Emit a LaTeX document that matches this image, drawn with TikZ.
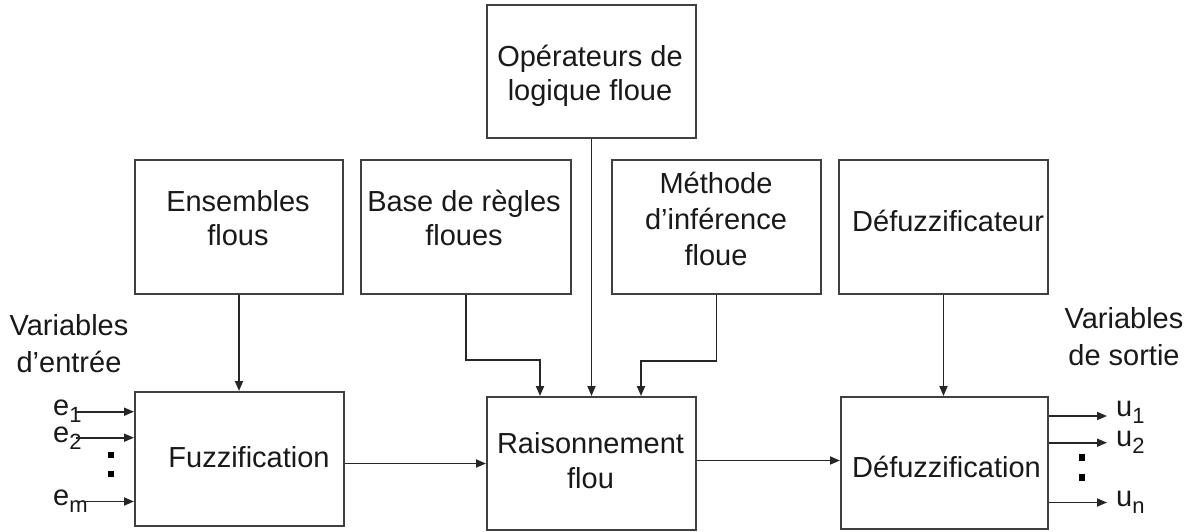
\documentclass[tikz,border=0pt]{standalone}
\usepackage{fontspec}
\setmainfont{Liberation Sans}
\usetikzlibrary{arrows.meta}
\newcommand\mlines[1]{\begin{tabular}[t]{@{}c@{}}#1\end{tabular}}
\newcommand\subsc[1]{\raisebox{-7pt}{\fontsize{22}{22}\selectfont #1}}
\begin{document}
\begin{tikzpicture}[x=1pt,y=-1pt,
  box/.style={draw=black!75, line width=2pt, rectangle, inner sep=0pt},
  txt/.style={inner sep=0pt, anchor=base, text=black!90, font=\fontsize{29}{34}\selectfont},
  arr/.style={draw=black!85, line width=1.8pt, -{Triangle[length=10pt,width=8pt]}},
  dot/.style={fill=black}
]
\useasboundingbox (0,0) rectangle (1192,531);

% boxes
\node[box, minimum width=209pt, minimum height=133pt] (ops) at (591.5,71.5) {};
\node[box, minimum width=208pt, minimum height=134pt] (ens) at (239,227) {};
\node[box, minimum width=210pt, minimum height=134pt] (base) at (466,227) {};
\node[box, minimum width=209pt, minimum height=134pt] (meth) at (716.5,227) {};
\node[box, minimum width=209pt, minimum height=134pt] (defz) at (943.5,227) {};
\node[box, minimum width=209pt, minimum height=134pt] (fuzz) at (239.5,459) {};
\node[box, minimum width=209pt, minimum height=133pt] (rais) at (591.5,463.5) {};
\node[box, minimum width=207pt, minimum height=132pt] (defuzz) at (944.5,463) {};

% box texts
\node[txt] (tops) at (590,66) {\mlines{Opérateurs de\\logique floue}};
\node[txt] (tens) at (238,211) {\mlines{Ensembles\\flous}};
\node[txt] (tbase) at (464,211) {\mlines{Base de règles\\floues}};
\node[txt, font=\fontsize{29}{36}\selectfont] (tmeth) at (716,193) {\mlines{Méthode\\d’inférence\\floue}};
\node[txt, anchor=base west] (tdefz) at (852,231) {Défuzzificateur};
\node[txt] (tfuzz) at (249,467) {Fuzzification};
\node[txt, font=\fontsize{29}{35}\selectfont] (trais) at (590.5,453) {\mlines{Raisonnement\\flou}};
\node[txt, anchor=base west] (tdefuzz) at (852,477) {Défuzzification};

% side labels
\node[txt, font=\fontsize{29}{37}\selectfont] (vin) at (69,335) {\mlines{Variables\\d’entrée}};
\node[txt, font=\fontsize{29}{37}\selectfont] (vout) at (1124,328) {\mlines{Variables\\de sortie}};

% vertical feeds
\draw[arr] (ens.south) -- (ens.south |- fuzz.north);
\draw[arr] (ops.south) -- (ops.south |- rais.north);
\draw[arr] (defz.south) -- (defz.south |- defuzz.north);
\coordinate (jb) at (540,360);
\coordinate (jm) at (641,361);
\draw[arr] (base.south) |- (jb) -- (jb |- rais.north);
\draw[arr] (meth.south) |- (jm) -- (jm |- rais.north);

% main chain
\coordinate (yb) at (0,460.5);
\draw[arr] (fuzz.east |- rais.west) -- (rais.west);
\draw[arr] (rais.east |- yb) -- (defuzz.west |- yb);

% inputs
\coordinate (in1) at (76,411.7);
\coordinate (in2) at (76,437.7);
\coordinate (inm) at (76,501.5);
\node[txt, anchor=base west] (le1) at (53,415.5) {e\subsc{1}};
\node[txt, anchor=base west] (le2) at (53,442) {e\subsc{2}};
\node[txt, anchor=base west] (lem) at (53,505.5) {e\subsc{m}};
\draw[arr] (in1) -- (in1 -| fuzz.west);
\draw[arr] (in2) -- (in2 -| fuzz.west);
\draw[arr] (inm) -- (inm -| fuzz.west);
\fill[dot] (108,452) rectangle (113.5,458);
\fill[dot] (108,471) rectangle (113.5,477);

% outputs
\coordinate (out1) at (1107,416);
\coordinate (out2) at (1107,442.7);
\coordinate (outn) at (1107,502.5);
\draw[arr] (out1 -| defuzz.east) -- (out1);
\draw[arr] (out2 -| defuzz.east) -- (out2);
\draw[arr] (outn -| defuzz.east) -- (outn);
\node[txt, anchor=base west] (lu1) at (1116,416) {u\subsc{1}};
\node[txt, anchor=base west] (lu2) at (1116,446) {u\subsc{2}};
\node[txt, anchor=base west] (lun) at (1116,506) {u\subsc{n}};
\fill[dot] (1079,454) rectangle (1084.5,460.5);
\fill[dot] (1079,474) rectangle (1084.5,480.5);
\end{tikzpicture}
\end{document}
